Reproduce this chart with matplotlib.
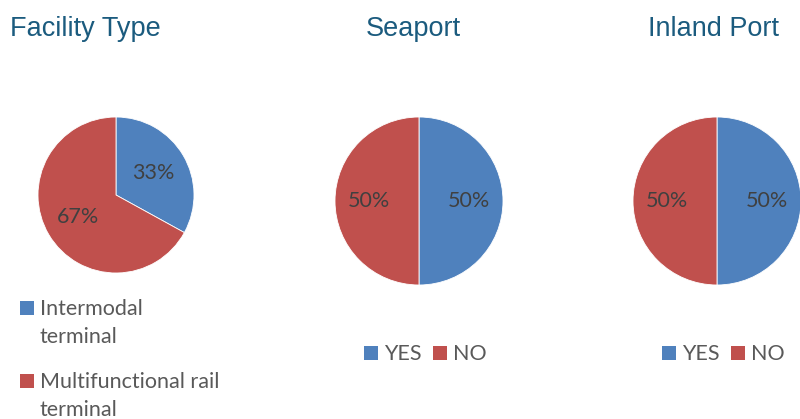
import matplotlib.pyplot as plt
from matplotlib.patches import Rectangle

plt.rcParams['font.family'] = ['Lato', 'DejaVu Sans']

# shares in percent
facility_labels = ['Intermodal\nterminal', 'Multifunctional rail\nterminal']
facility_values = [33, 67]
yes_no_labels = ['YES', 'NO']
seaport_values = [50, 50]
inland_values = [50, 50]

blue = '#4F81BD'
red = '#C0504D'
title_color = '#1B5B7E'
text_color = '#404040'
legend_color = '#595959'

W, H = 800, 419
fig = plt.figure(figsize=(W / 100, H / 100), dpi=100)


def pie_axes(cx, cy, r):
    return fig.add_axes([(cx - r) / W, (H - cy - r) / H, 2 * r / W, 2 * r / H])


def draw_pie(ax, values, pctdist):
    wedges, _, autotexts = ax.pie(values, colors=[blue, red], startangle=90,
                                  counterclock=False, autopct='%d%%',
                                  pctdistance=pctdist, radius=1,
                                  wedgeprops=dict(linewidth=0.6, edgecolor='white'),
                                  textprops=dict(fontsize=15.5, color=text_color))
    ax.set_xlim(-1, 1)
    ax.set_ylim(-1, 1)
    ax.set_aspect('equal')
    return wedges


ax1 = pie_axes(116, 195, 78)
draw_pie(ax1, facility_values, 0.56)
ax2 = pie_axes(419, 201, 84)
draw_pie(ax2, seaport_values, 0.6)
ax3 = pie_axes(717, 201, 84)
draw_pie(ax3, inland_values, 0.6)

# titles
for x, t, ha in [(10, 'Facility Type', 'left'), (413, 'Seaport', 'center'),
                 (713, 'Inland Port', 'center')]:
    fig.text(x / W, 1 - 36 / H, t, fontsize=19.5, color=title_color,
             family='Liberation Sans', va='baseline', ha=ha)


# legend entries: square swatch + text, positions in pixels from top-left
def legend_item(x, y_base, color, label):
    fig.patches.append(Rectangle((x / W, 1 - y_base / H), 14 / W, 14 / H,
                                 transform=fig.transFigure, facecolor=color,
                                 edgecolor='none'))
    for i, line in enumerate(label.split('\n')):
        fig.text((x + 20) / W, 1 - (y_base + 28 * i) / H, line, fontsize=15.5,
                 color=legend_color, va='baseline', ha='left')


legend_item(20, 315, blue, facility_labels[0])
legend_item(20, 388, red, facility_labels[1])

for x0 in (364, 662):
    legend_item(x0, 360, blue, yes_no_labels[0])
    legend_item(x0 + 69, 360, red, yes_no_labels[1])

fig.savefig('out.png', dpi=100)
